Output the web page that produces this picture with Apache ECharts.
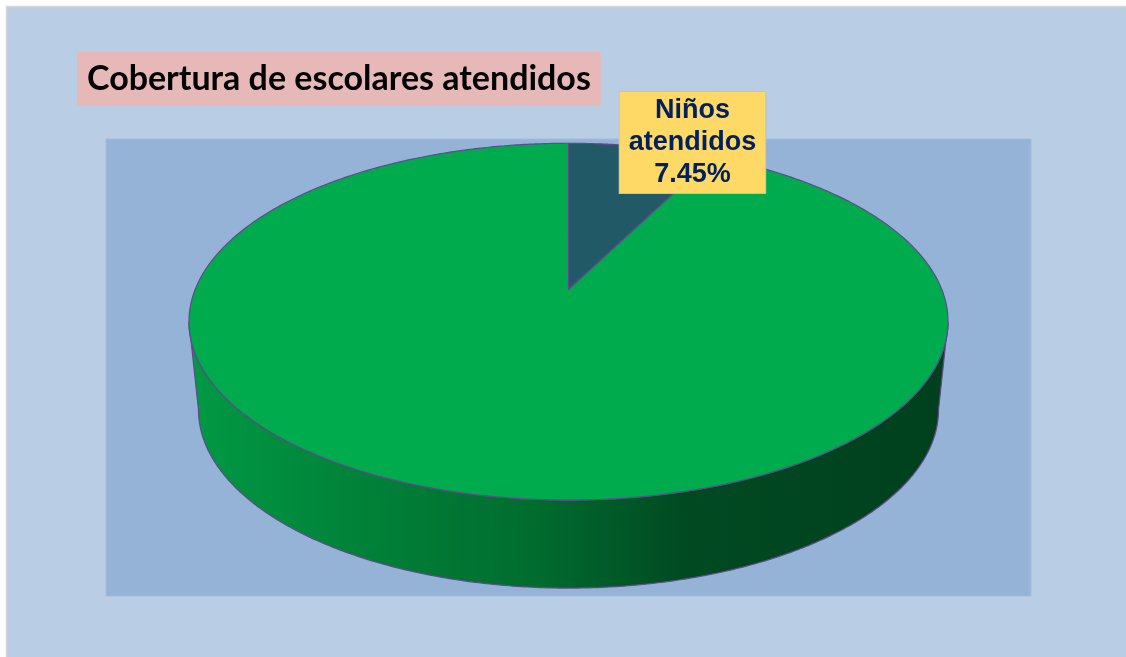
<!DOCTYPE html>
<html>
<head>
<meta charset="utf-8">
<script src="https://cdn.jsdelivr.net/npm/echarts@6/dist/echarts.min.js"></script>
<style>
  html, body { margin: 0; padding: 0; background: #ffffff; }
  #chart { width: 1126px; height: 657px; }
</style>
</head>
<body>
<div id="chart"></div>
<script>
// Data
const categories = ['Niños atendidos', 'Niños no atendidos'];
const values = [7.45, 92.55];
const labelledSlices = [0];
const titleText = 'Cobertura de escolares atendidos';

// Pie geometry (in axis units): the disc is seen from above with some perspective
const K = 0.1803;          // perspective strength (near half looks larger)
const DEPTH = 0.51;        // thickness of the pie, y-axis units
const BOTTOM_SCALE = 0.975;
const FRONT_START = Math.acos(-K);
const FRONT_END = 2 * Math.PI - Math.acos(-K);

const sliceColors = ['#215967', '#00ab4e'];
const sideStops = [
  { offset: 0, color: '#009a44' },
  { offset: 0.2, color: '#00843a' },
  { offset: 0.45, color: '#006d2f' },
  { offset: 0.65, color: '#004a22' },
  { offset: 1, color: '#00401d' }
];
const edgeColor = '#604a8c';

const total = values.reduce((a, b) => a + b, 0);
let cum = 0;
const pieData = values.map((v, i) => {
  const item = { name: categories[i], value: [cum / total, (cum + v) / total, v] };
  cum += v;
  return item;
});

// theta measured clockwise from the far side of the disc
function project(theta, r) {
  const u = r * Math.sin(theta), v = r * Math.cos(theta);
  const w = 1 + K * v;
  return [u / w, v / w];
}

function arcPoints(t0, t1, mapFn) {
  const n = Math.max(2, Math.ceil(Math.abs(t1 - t0) / (Math.PI / 360)));
  const pts = [];
  for (let i = 0; i <= n; i++) {
    const t = t0 + (t1 - t0) * i / n;
    pts.push(mapFn(project(t, 1)));
  }
  return pts;
}

function renderSlice(params, api) {
  const idx = params.dataIndex;
  const t0 = api.value(0) * 2 * Math.PI;
  const t1 = api.value(1) * 2 * Math.PI;
  const val = api.value(2);
  const children = [];

  // visible front wall
  const a = Math.max(t0, FRONT_START), b = Math.min(t1, FRONT_END);
  if (b > a) {
    const topArc = arcPoints(a, b, p => api.coord(p));
    const botArc = arcPoints(b, a, p => api.coord([p[0] * BOTTOM_SCALE, p[1] - DEPTH]));
    const xl = api.coord([-1.02, 0])[0], xr = api.coord([1.02, 0])[0];
    children.push({
      type: 'polygon',
      shape: { points: topArc.concat(botArc) },
      style: {
        fill: new echarts.graphic.LinearGradient(xl, 0, xr, 0, sideStops, true),
        stroke: edgeColor,
        lineWidth: 1.2
      },
      z2: 1
    });
  }

  // top face
  const topPts = [api.coord([0, 0])].concat(arcPoints(t0, t1, p => api.coord(p)));
  children.push({
    type: 'polygon',
    shape: { points: topPts },
    style: { fill: sliceColors[idx], stroke: edgeColor, lineWidth: 1.2, lineJoin: 'round' },
    z2: 2
  });

  // data label
  if (labelledSlices.indexOf(idx) >= 0) {
    const mid = project((t0 + t1) / 2, 1);
    const anchor = api.coord(mid);
    const name = categories[idx].split(' ');
    children.push({
      type: 'text',
      x: anchor[0] + 50.3,
      y: anchor[1] - 4.2,
      z2: 100,
      style: {
        text: name[0] + '\n' + name.slice(1).join(' ') + '\n' + val.toFixed(2) + '%',
        fill: '#002060',
        font: 'bold 27px "Liberation Sans", Arial, sans-serif',
        lineHeight: 32,
        align: 'center',
        verticalAlign: 'middle',
        backgroundColor: '#ffd966',
        borderColor: '#c3c3c3',
        borderWidth: 1,
        padding: [3, 9, 2, 9]
      }
    });
  }
  return { type: 'group', children };
}

const chart = echarts.init(document.getElementById('chart'), null, { renderer: 'canvas' });
chart.setOption({
  animation: false,
  backgroundColor: '#ffffff',
  graphic: [
    {
      type: 'rect', z: -10, silent: true,
      shape: { x: 6.5, y: 6.5, width: 1130, height: 660 },
      style: { fill: '#b9cde5', stroke: '#d6d6d6', lineWidth: 1.5 }
    },
    {
      type: 'rect', z: -9, silent: true,
      shape: { x: 106, y: 139, width: 925, height: 457 },
      style: { fill: '#95b3d7', stroke: '#a3bddc', lineWidth: 1 }
    }
  ],
  title: {
    text: titleText,
    left: 77,
    top: 52,
    backgroundColor: '#e6b9b8',
    padding: [0, 10],
    textStyle: {
      fontFamily: 'Lato',
      fontWeight: 'bold',
      fontSize: 34,
      lineHeight: 54,
      color: '#000000'
    }
  },
  grid: { left: 195.2, right: 184.2, top: 116.9, bottom: 22.3, outerBoundsMode: 'none' },
  xAxis: { type: 'value', min: -1, max: 1, show: false },
  yAxis: { type: 'value', min: -2, max: 1, show: false },
  series: [{
    type: 'custom',
    name: 'Cobertura',
    coordinateSystem: 'cartesian2d',
    clip: false,
    renderItem: renderSlice,
    data: pieData
  }]
});
</script>
</body>
</html>
